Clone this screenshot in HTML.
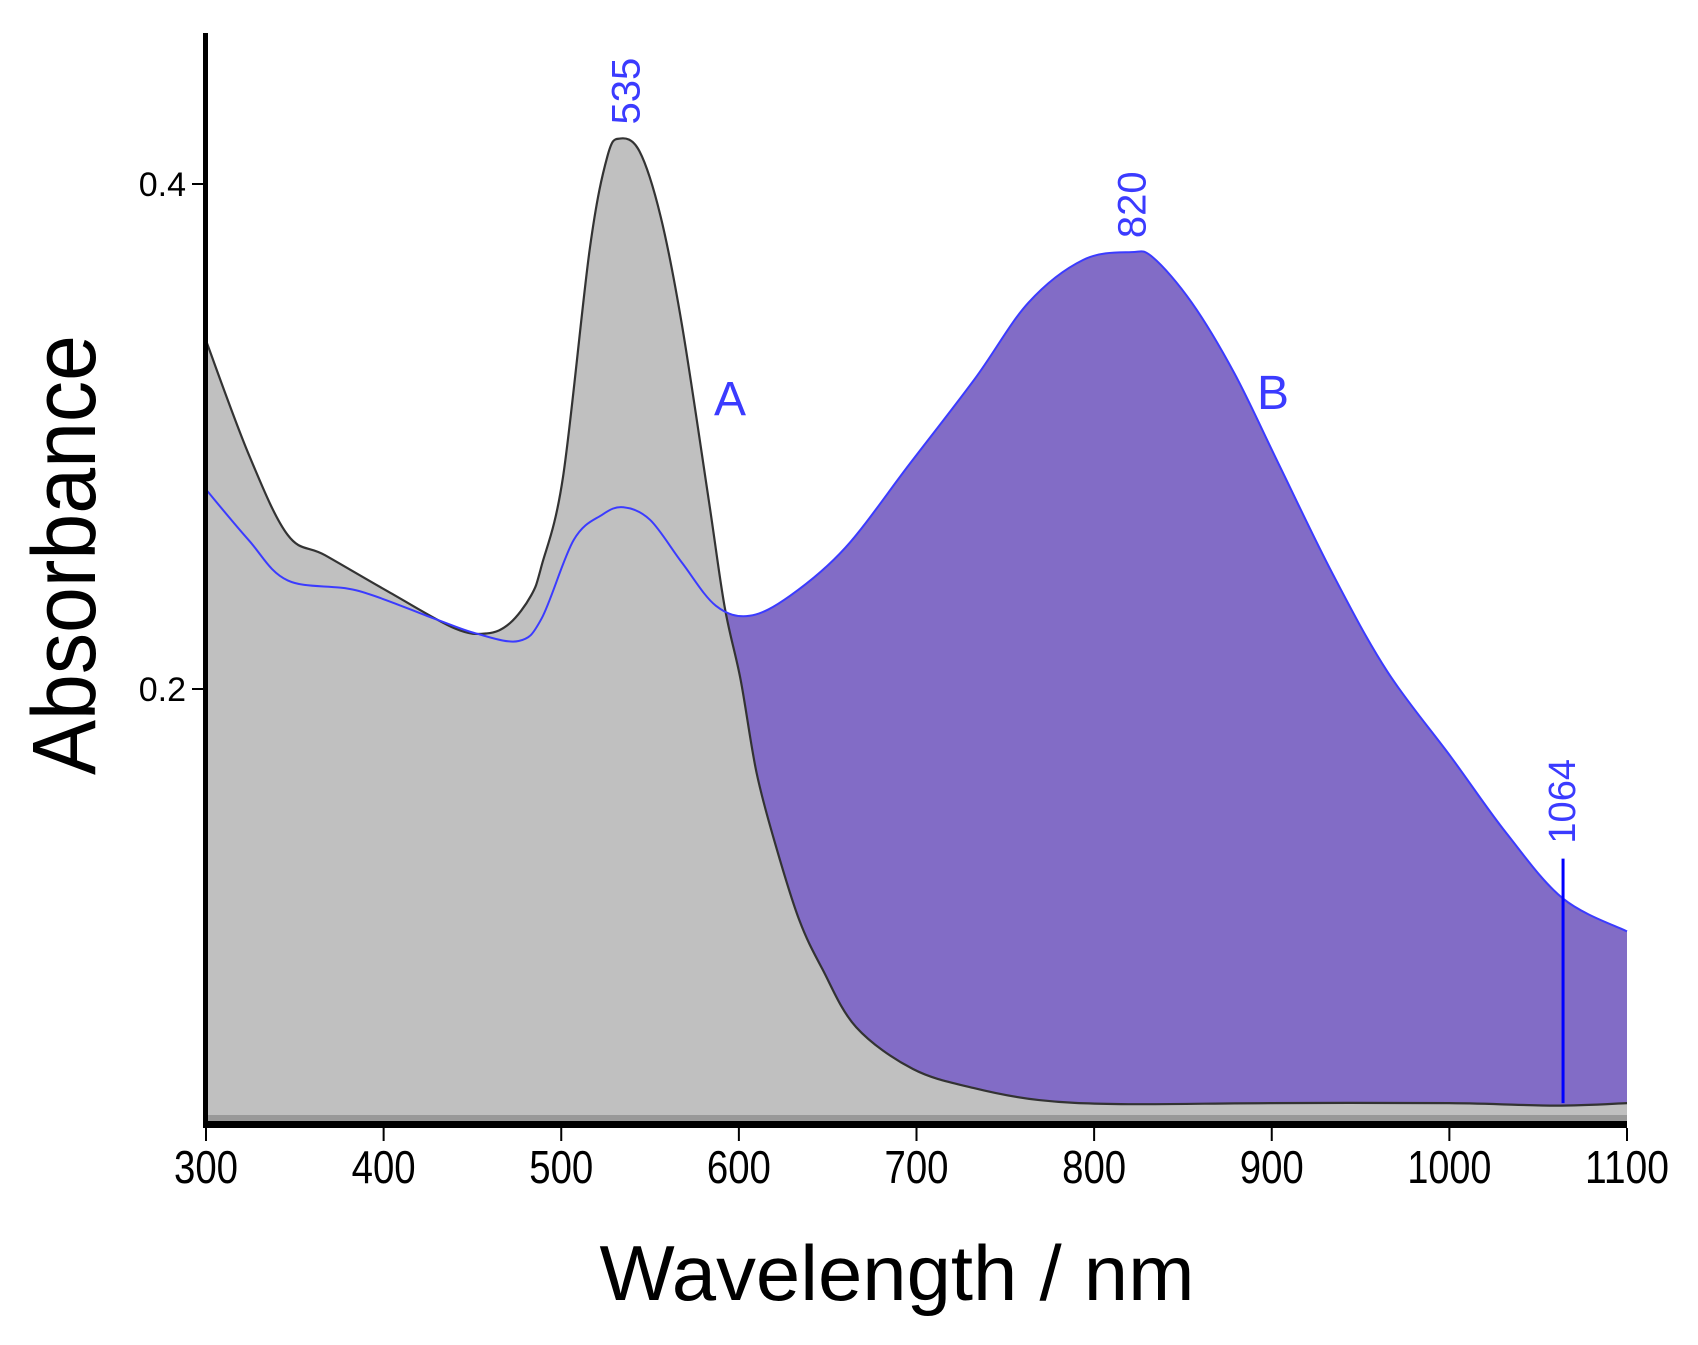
<!DOCTYPE html>
<html><head><meta charset="utf-8"><style>
html,body{margin:0;padding:0;background:#fff;}
svg{display:block;font-family:"Liberation Sans",sans-serif;}
</style></head><body>
<svg id="chart" width="1698" height="1345" viewBox="0 0 1698 1345" xmlns="http://www.w3.org/2000/svg">
<g id="fills"></g>
<g id="lines"></g>
<g id="axes"></g>
<text transform="translate(95,555) rotate(-90)" text-anchor="middle" font-size="90" fill="#000" textLength="440" lengthAdjust="spacingAndGlyphs">Absorbance</text>
<text x="897" y="1300" text-anchor="middle" font-size="78" fill="#000" textLength="595" lengthAdjust="spacingAndGlyphs">Wavelength / nm</text>
<text x="730" y="415" text-anchor="middle" font-size="48" fill="#3b3bff">A</text>
<text x="1273" y="409" text-anchor="middle" font-size="48" fill="#3b3bff">B</text>
</svg>
<script>
const wlA=[300,324,346,367,404,440,458,471,483,489,501,516,526,533,544,556,568,583,592,601,610,621,634,647,666,698,732,769,815,900,1000,1060,1100];
const absA=[0.338,0.293,0.261,0.253,0.238,0.224,0.222,0.226,0.237,0.249,0.284,0.374,0.411,0.418,0.413,0.387,0.344,0.275,0.2325,0.2036,0.1667,0.1374,0.1085,0.0891,0.0661,0.0495,0.042,0.0372,0.0356,0.036,0.036,0.035,0.036];
const wlB=[300,324,346,385,428,452,476,489,507,523,535,550,568,587,606,629,660,696,733,763,794,821,833,855,879,904,934,965,1001,1032,1064,1100];
const absB=[0.279,0.259,0.243,0.239,0.228,0.222,0.219,0.228,0.259,0.269,0.272,0.267,0.250,0.233,0.229,0.237,0.256,0.289,0.323,0.353,0.370,0.373,0.371,0.353,0.325,0.289,0.246,0.207,0.173,0.143,0.117,0.104];
const xTicks=[300,400,500,600,700,800,900,1000,1100];
const yTicks=[0.2,0.4];
const yTickLabels=["0.2","0.4"];
const peakLabels=[535,820];
const peakValues=[0.418,0.373];
const markerWl=1064;
const markerAbs=0.117;

const X0=206,X1=1627,YB=1121;
const sx=w=>X0+(w-300)/800*(X1-X0);
const sy=v=>689-(v-0.2)/0.2*505;
const NS="http://www.w3.org/2000/svg";
function mk(tag,attrs,parent){const e=document.createElementNS(NS,tag);for(const k in attrs)e.setAttribute(k,attrs[k]);parent.appendChild(e);return e;}
function smoothPath(xs,ys){
  const p=xs.map((w,i)=>[sx(w),sy(ys[i])]);
  let d=`M${p[0][0]},${p[0][1]}`;
  for(let i=0;i<p.length-1;i++){
    const p0=p[Math.max(0,i-1)],p1=p[i],p2=p[i+1],p3=p[Math.min(p.length-1,i+2)];
    const c1=[p1[0]+(p2[0]-p0[0])/6,p1[1]+(p2[1]-p0[1])/6];
    const c2=[p2[0]-(p3[0]-p1[0])/6,p2[1]-(p3[1]-p1[1])/6];
    d+=` C${c1[0]},${c1[1]} ${c2[0]},${c2[1]} ${p2[0]},${p2[1]}`;
  }
  return d;
}
const fills=document.getElementById('fills'),lines=document.getElementById('lines'),axes=document.getElementById('axes');
const pA=smoothPath(wlA,absA),pB=smoothPath(wlB,absB);
let el=mk('path',{d:pB+` L${sx(wlB[wlB.length-1])},${YB} L${sx(wlB[0])},${YB} Z`,fill:'#826cc6'},fills);


el=mk('path',{d:pA+` L${sx(wlA[wlA.length-1])},${YB} L${sx(wlA[0])},${YB} Z`,fill:'#c0c0c0'},fills);


el=mk('path',{d:pA,fill:'none',stroke:'#333',"stroke-width":2.2},lines);


el=mk('path',{d:pB,fill:'none',stroke:'#3b3bff',"stroke-width":2},lines);


el=mk('line',{x1:sx(markerWl),x2:sx(markerWl),y1:sy(markerAbs)-40,y2:sy(0.036),stroke:'#0000ff',"stroke-width":3},lines);


el=mk('text',{transform:`translate(${sx(markerWl)+12},${sy(markerAbs)-55}) rotate(-90)`,"font-size":38,fill:'#3b3bff'},lines);
el.textContent=String(markerWl);


peakLabels.forEach((p,i)=>{
  const t=mk('text',{transform:`translate(${sx(p)+16},${sy(peakValues[i])-14}) rotate(-90)`,"font-size":40,fill:'#3b3bff'},lines);
  t.textContent=String(p);
  
  
});
el=mk('rect',{x:X0-2,y:YB-6,width:X1-X0+2,height:6,fill:'#999'},axes);


el=mk('rect',{x:X0-3,y:YB,width:X1-X0+3,height:7,fill:'#000'},axes);


el=mk('rect',{x:X0-3,y:33,width:5,height:YB-33,fill:'#000'},axes);


xTicks.forEach(t=>{
  const l=mk('line',{x1:sx(t),x2:sx(t),y1:YB+7,y2:YB+20,stroke:'#000',"stroke-width":2},axes);
  
  
  const tx=mk('text',{x:sx(t),y:YB+62,"text-anchor":"middle","font-size":46,fill:'#000',textLength:(t>=1000?84:64),lengthAdjust:'spacingAndGlyphs'},axes);
  tx.textContent=String(t);
  
  
});
yTicks.forEach((t,i)=>{
  const l=mk('line',{x1:X0-14,x2:X0,y1:sy(t),y2:sy(t),stroke:'#000',"stroke-width":2},axes);
  
  
  const tx=mk('text',{x:X0-20,y:sy(t)+12,"text-anchor":"end","font-size":34,fill:'#000'},axes);
  tx.textContent=yTickLabels[i];
  
  
});
</script>
</body></html>
